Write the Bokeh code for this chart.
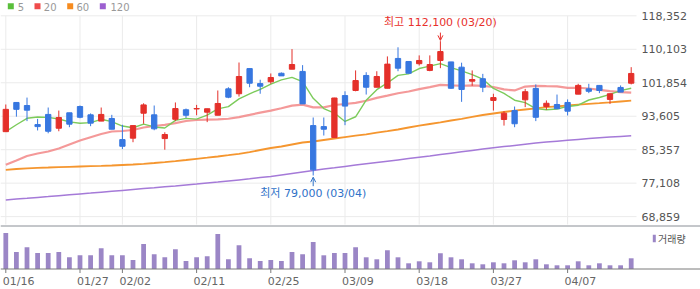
from bokeh.plotting import figure
from bokeh.models import Range1d, Arrow, OpenHead, ColumnDataSource
from bokeh.core.properties import value
from bokeh.embed import file_html
from bokeh.resources import INLINE

# ---------------- data ----------------
dates = ["01/16", "01/19", "01/20", "01/21", "01/22", "01/23", "01/26", "01/27", "01/28", "01/29",
         "01/30", "02/02", "02/03", "02/04", "02/05", "02/06", "02/09", "02/10", "02/11", "02/12",
         "02/13", "02/19", "02/20", "02/23", "02/24", "02/25", "02/26", "02/27", "03/03", "03/04",
         "03/05", "03/06", "03/09", "03/10", "03/11", "03/12", "03/13", "03/16", "03/17", "03/18",
         "03/19", "03/20", "03/23", "03/24", "03/25", "03/26", "03/27", "03/30", "03/31", "04/01",
         "04/02", "04/03", "04/06", "04/07", "04/08", "04/09", "04/10", "04/13", "04/14", "04/15"]

opens = [89800, 97000, 96250, 91550, 94050, 90650, 94450, 96000, 93950, 92400,
         93050, 87850, 88200, 94350, 93950, 88100, 92850, 95200, 95400, 94600,
         93850, 100350, 99150, 105350, 101650, 102100, 104200, 105200, 104650, 91300,
         91050, 88350, 98700, 99950, 103650, 100750, 100500, 107850, 107100, 106550,
         104900, 107350, 107000, 105700, 102250, 102850, 97500, 92800, 95000, 97650,
         100450, 96000, 96500, 97000, 99050, 100350, 101200, 97750, 100700, 101750]
highs = [96500, 97000, 98200, 92950, 95750, 95000, 94450, 96250, 94300, 95750,
         93950, 91500, 91300, 96800, 96250, 89650, 97000, 95500, 96400, 95450,
         99950, 100750, 106850, 105350, 102600, 104150, 104400, 110150, 106200, 93300,
         93300, 98150, 99750, 104900, 104450, 104700, 108350, 110600, 107100, 108600,
         108600, 112100, 107000, 106800, 104900, 104050, 99150, 94850, 96000, 100350,
         101450, 97500, 98950, 97750, 101600, 101600, 101200, 99200, 101200, 105700]
lows = [89800, 93500, 92400, 90100, 89400, 89900, 90900, 93100, 91150, 92400,
        90400, 85500, 87200, 91750, 90150, 85350, 92400, 93200, 93850, 92150,
        93850, 98050, 98450, 100750, 99150, 101600, 103550, 105200, 96650, 79000,
        88850, 88350, 91400, 99750, 98950, 100750, 100500, 104700, 104200, 106100,
        104700, 105450, 100350, 97150, 101100, 99550, 95000, 91300, 90900, 95850,
        92400, 95200, 95450, 93800, 99050, 99300, 99300, 96650, 99550, 101450]
closes = [95300, 95300, 95100, 91050, 89900, 93300, 91650, 93350, 91900, 94050,
          90400, 86200, 91300, 96400, 90500, 89100, 95500, 93850, 95500, 95450,
          96750, 98300, 103400, 101750, 101000, 103150, 103550, 106350, 96650, 80400,
          90400, 98100, 96100, 102400, 100750, 103400, 106450, 105450, 104200, 107350,
          106350, 109550, 100500, 100200, 102650, 100750, 98200, 94350, 91750, 99650,
          93350, 96800, 95450, 94850, 101200, 99750, 99950, 99150, 99550, 104150]
volumes = [3600, 1700, 2170, 1600, 1600, 1700, 1170, 1370, 1370, 2070,
           1370, 1370, 900, 2500, 1470, 1170, 1970, 800, 1170, 1270,
           3500, 970, 2370, 1070, 800, 900, 800, 1700, 1470, 2700,
           1370, 1600, 1600, 2170, 1170, 970, 1870, 1170, 570, 770,
           670, 1570, 1170, 970, 570, 470, 670, 570, 870, 670,
           970, 470, 370, 370, 770, 370, 570, 370, 370, 1070]

ma5 = [89800, 91500, 93100, 93400, 93325, 92929, 92205, 91868, 92027, 92849,
       92274, 91184, 90768, 91670, 90966, 90708, 92572, 93087, 92899, 93890,
       95416, 95971, 97874, 99133, 100243, 101522, 102582, 103177, 102156, 98033,
       95486, 94386, 92324, 93474, 97547, 100144, 101809, 103683, 104039, 105358,
       105952, 106577, 105595, 104793, 103851, 102731, 100471, 99242, 97557, 96953,
       95476, 95188, 95397, 96021, 96328, 97607, 98231, 98975, 99906, 100501]
ma20 = [81657, 82693, 83802, 84419, 84911, 85651, 86637, 87623, 88437, 89226,
        89841, 89965, 90212, 90827, 91197, 91493, 91888, 92430, 92677, 92758,
        92832, 92983, 93399, 93933, 94488, 94980, 95578, 96227, 96465, 95783,
        95783, 96378, 96616, 96916, 97428, 98142, 98687, 99265, 99701, 100296,
        100777, 101339, 101195, 101116, 101198, 101079, 100811, 100212, 99966, 100927,
        101076, 101011, 100980, 100603, 100623, 100442, 100117, 99802, 99569, 99409]
ma60 = [80400, 80598, 80770, 80893, 80967, 81067, 81140, 81214, 81289, 81362,
        81460, 81584, 81707, 81879, 82076, 82298, 82545, 82816, 83112, 83383,
        83679, 83999, 84344, 84739, 85281, 85774, 86144, 86637, 87130, 87376,
        87746, 88116, 88461, 88806, 89151, 89546, 89915, 90335, 90827, 91271,
        91691, 92109, 92553, 92972, 93465, 93909, 94279, 94648, 94968, 95265,
        95560, 95832, 96054, 96250, 96472, 96644, 96818, 97014, 97236, 97458]
ma120 = [72956, 73178, 73375, 73597, 73794, 74016, 74238, 74459, 74657, 74879,
         75101, 75323, 75545, 75767, 75988, 76210, 76432, 76679, 76901, 77147,
         77369, 77640, 77911, 78182, 78478, 78749, 79119, 79489, 79858, 80228,
         80598, 80918, 81239, 81559, 81879, 82200, 82521, 82841, 83161, 83482,
         83802, 84147, 84493, 84838, 85183, 85528, 85823, 86119, 86415, 86711,
         87006, 87228, 87450, 87672, 87894, 88116, 88288, 88461, 88634, 88806]

ma_names = ["5", "20", "60", "120"]
y_ticks = [68859, 77108, 85357, 93605, 101854, 110103, 118352]
y_tick_labels = ["68,859", "77,108", "85,357", "93,605", "101,854", "110,103", "118,352"]
x_tick_labels = ["01/16", "01/27", "02/02", "02/11", "02/25", "03/09", "03/18", "03/27", "04/07"]
vol_label = "거래량"

# ---------------- layout / style ----------------
W, H = 700, 289
PW = 636            # width of the price/volume plotting column (px)
PRICE_BOTTOM = 224  # bottom of the price panel (px from top)
n = len(dates)
slot = PW / n
P_TOP, P_PER_PX = 122133, 246.5      # price at top edge, price units per pixel
V_BASE_PX, V_PER_PX = 268.5, 100     # volume baseline pixel, volume units per pixel

UP, DOWN = "#e4302a", "#3777e0"
MA_COLORS = ["#7ccb5b", "#f28787", "#f5962f", "#a57ad8"]
MA_WIDTHS = [1.4, 2.2, 1.8, 1.5]
MA_ALPHA = [1.0, 0.85, 1.0, 1.0]
LEG_COLORS = ["#5abf3b", "#ef4b4b", "#f68b1f", "#9c5fd0"]
VOL_COLOR = "#9b86c6"
GRID = "#ebebeb"
AXIS = "#7a7a7a"
FONT = "DejaVu Sans, Noto Sans CJK KR"
KFONT = "Noto Sans CJK KR"


def px2x(px):
    return px / slot - 0.5


def py2price(py):
    return P_TOP - py * P_PER_PX


def py2vol(py):
    return (V_BASE_PX - py) * V_PER_PX


idx = list(range(n))
tick_idx = [dates.index(d) for d in x_tick_labels]

p = figure(width=W, height=H,
           x_range=Range1d(px2x(0), px2x(W)),
           y_range=Range1d(py2price(H), py2price(0)),
           x_axis_location=None, y_axis_location=None, toolbar_location=None,
           output_backend="svg", min_border=0, min_border_left=0, min_border_right=0,
           min_border_top=0, min_border_bottom=0, outline_line_color=None)
p.extra_y_ranges = {"vol": Range1d(py2vol(H), py2vol(0))}
p.xgrid.visible = False
p.ygrid.visible = False

# ---- price panel grid ----
p.segment(x0=[px2x(0)] * len(y_ticks), x1=[px2x(PW)] * len(y_ticks), y0=y_ticks, y1=y_ticks,
          line_color=GRID, line_width=1)
p.segment(x0=tick_idx, y0=[y_ticks[-1]] * len(tick_idx), x1=tick_idx,
          y1=[py2price(PRICE_BOTTOM)] * len(tick_idx), line_color=GRID, line_width=1)
p.text(x=[px2x(PW + 5)] * len(y_ticks), y=y_ticks, text=y_tick_labels,
       text_font=value("DejaVu Sans"), text_font_size="11px", text_color="#555555",
       text_align="left", text_baseline="middle")

# ---- moving averages ----
for vals, col, lw, al in zip([ma120, ma60, ma20, ma5], MA_COLORS[::-1], MA_WIDTHS[::-1], MA_ALPHA[::-1]):
    p.line(idx, vals, line_color=col, line_width=lw, line_alpha=al)

# ---- candles ----
src = ColumnDataSource(dict(
    x=idx, o=opens, h=highs, l=lows, c=closes,
    top=[max(o, c) for o, c in zip(opens, closes)],
    bottom=[min(o, c) for o, c in zip(opens, closes)],
    color=[UP if c >= o else DOWN for o, c in zip(opens, closes)],
))
p.segment(x0="x", y0="l", x1="x", y1="h", line_color="color", line_width=1, source=src)
p.vbar(x="x", width=0.5, top="top", bottom="bottom", fill_color="color", line_color="color",
       line_width=1, source=src)

# ---- MA legend (top-left) ----
leg_sq = [7.3, 34.0, 66.7, 99.3]
leg_tx = [17.3, 43.3, 76.0, 110.0]
p.quad(left=[px2x(v) for v in leg_sq], right=[px2x(v + 6) for v in leg_sq],
       top=[py2price(2.7)] * 4, bottom=[py2price(8.7)] * 4,
       fill_color=LEG_COLORS, line_color=None)
p.text(x=[px2x(v) for v in leg_tx], y=[py2price(6.0)] * 4, text=ma_names,
       text_font=value("DejaVu Sans"), text_font_size="10px", text_color="#999999",
       text_baseline="middle", text_align="left")

# ---- high / low annotations ----
hi = max(highs)
hi_i = highs.index(hi)
lo = min(lows)
lo_i = lows.index(lo)
HI_C, LO_C = "#e8302c", "#2f72c8"
p.text(x=[hi_i], y=[hi + 18.3 * P_PER_PX], text=[f"최고 {hi:,} ({dates[hi_i]})"],
       text_font=value(FONT), text_font_size="11px", text_color=HI_C,
       text_align="center", text_baseline="middle")
p.add_layout(Arrow(end=OpenHead(size=5, line_color=HI_C, line_width=1),
                   x_start=hi_i, y_start=hi + 8.6 * P_PER_PX, x_end=hi_i, y_end=hi + 0.8 * P_PER_PX,
                   line_color=HI_C, line_width=1))
p.text(x=[lo_i], y=[lo - 18.5 * P_PER_PX], text=[f"최저 {lo:,} ({dates[lo_i]})"],
       text_font=value(FONT), text_font_size="11px", text_color=LO_C,
       text_align="center", text_baseline="middle")
p.add_layout(Arrow(end=OpenHead(size=5, line_color=LO_C, line_width=1),
                   x_start=lo_i, y_start=lo - 10.7 * P_PER_PX, x_end=lo_i, y_end=lo - 1.7 * P_PER_PX,
                   line_color=LO_C, line_width=1))

# ---- volume panel ----
p.vbar(x=idx, width=0.45, top=volumes, bottom=0, fill_color=VOL_COLOR, line_color=None,
       y_range_name="vol")
p.segment(x0=[px2x(0)], x1=[px2x(W)], y0=[py2vol(225.5)], y1=[py2vol(225.5)],
          line_color="#8a8f96", line_width=1, y_range_name="vol")
p.segment(x0=[px2x(0)], x1=[px2x(W)], y0=[0], y1=[0],
          line_color=AXIS, line_width=1, y_range_name="vol")
p.segment(x0=tick_idx, y0=[0] * len(tick_idx), x1=tick_idx, y1=[py2vol(272.5)] * len(tick_idx),
          line_color=AXIS, line_width=1, y_range_name="vol")
p.text(x=tick_idx, y=[py2vol(280.5)] * len(tick_idx), text=x_tick_labels, x_offset=-3,
       text_font=value("DejaVu Sans"), text_font_size="11px", text_color="#666666",
       text_align="left", text_baseline="middle", y_range_name="vol")
p.quad(left=[px2x(652.3)], right=[px2x(655.3)], top=[py2vol(234.3)], bottom=[py2vol(241.7)],
       fill_color=VOL_COLOR, line_color=None, y_range_name="vol")
p.text(x=[px2x(657.5)], y=[py2vol(238.0)], text=[vol_label], text_font=value(KFONT),
       text_font_size="10px", text_color="#555555", text_align="left", text_baseline="middle",
       y_range_name="vol")

open("out.html", "w").write(file_html(p, INLINE))
